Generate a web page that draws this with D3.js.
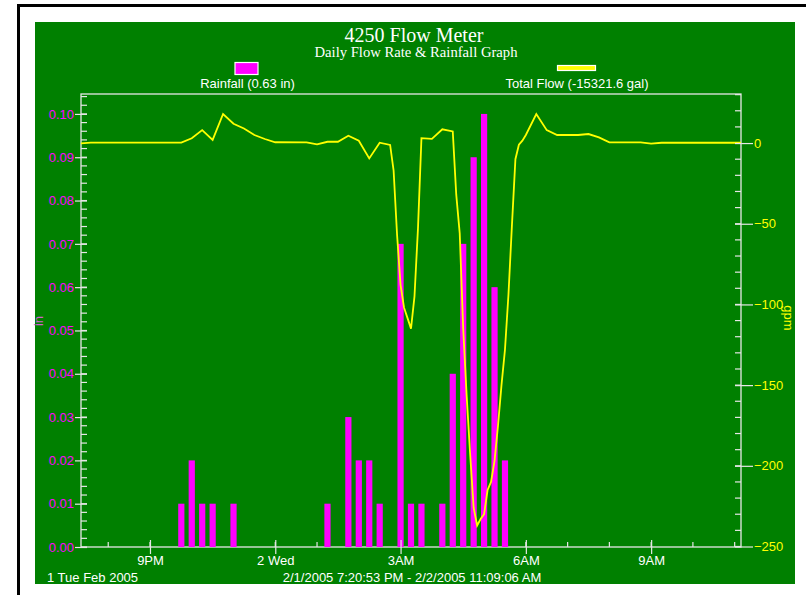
<!DOCTYPE html>
<html><head><meta charset="utf-8">
<script src="https://cdn.jsdelivr.net/npm/d3@7"></script>
<style>
html,body{margin:0;padding:0;background:#fff;}
svg{display:block;font-family:"Liberation Sans",Arial,sans-serif;}
</style></head>
<body>
<svg id="chart" width="806" height="595"></svg>
<script>
// ---- data ----
const startTime = "2005-02-01 19:20:53";
const endTime = "2005-02-02 11:09:06";

const rainTimes = ["2005-02-01 21:45:00","2005-02-01 22:00:00","2005-02-01 22:15:00","2005-02-01 22:30:00","2005-02-01 23:00:00",
  "2005-02-02 01:15:00","2005-02-02 01:45:00","2005-02-02 02:00:00","2005-02-02 02:15:00","2005-02-02 02:30:00",
  "2005-02-02 03:00:00","2005-02-02 03:15:00","2005-02-02 03:30:00","2005-02-02 04:00:00","2005-02-02 04:15:00",
  "2005-02-02 04:30:00","2005-02-02 04:45:00","2005-02-02 05:00:00","2005-02-02 05:15:00","2005-02-02 05:30:00"];
const rainValues = [0.01,0.02,0.01,0.01,0.01, 0.01,0.03,0.02,0.02,0.01, 0.07,0.01,0.01,0.01,0.04, 0.07,0.09,0.10,0.06,0.02];

const flowTimes = ["2005-02-01 19:20:53","2005-02-01 19:35:00","2005-02-01 21:45:00","2005-02-01 22:00:00","2005-02-01 22:15:00",
  "2005-02-01 22:30:00","2005-02-01 22:45:00","2005-02-01 23:00:00","2005-02-01 23:15:00","2005-02-01 23:30:00",
  "2005-02-01 23:45:00","2005-02-02 00:00:00","2005-02-02 00:45:00","2005-02-02 01:00:00","2005-02-02 01:15:00",
  "2005-02-02 01:30:00","2005-02-02 01:45:00","2005-02-02 02:00:00","2005-02-02 02:15:00","2005-02-02 02:30:00",
  "2005-02-02 02:45:00","2005-02-02 02:50:00","2005-02-02 02:55:00","2005-02-02 03:00:00","2005-02-02 03:05:00",
  "2005-02-02 03:10:00","2005-02-02 03:15:00","2005-02-02 03:20:00","2005-02-02 03:25:00","2005-02-02 03:30:00",
  "2005-02-02 03:45:00","2005-02-02 04:00:00","2005-02-02 04:15:00","2005-02-02 04:20:00","2005-02-02 04:25:00",
  "2005-02-02 04:30:00","2005-02-02 04:35:00","2005-02-02 04:40:00","2005-02-02 04:45:00","2005-02-02 04:50:00",
  "2005-02-02 04:55:00","2005-02-02 05:00:00","2005-02-02 05:05:00","2005-02-02 05:10:00","2005-02-02 05:15:00",
  "2005-02-02 05:20:00","2005-02-02 05:25:00","2005-02-02 05:30:00","2005-02-02 05:35:00","2005-02-02 05:40:00",
  "2005-02-02 05:45:00","2005-02-02 05:50:00","2005-02-02 05:55:00","2005-02-02 06:00:00","2005-02-02 06:15:00",
  "2005-02-02 06:30:00","2005-02-02 06:45:00","2005-02-02 07:15:00","2005-02-02 07:30:00","2005-02-02 07:45:00",
  "2005-02-02 08:00:00","2005-02-02 08:45:00","2005-02-02 09:00:00","2005-02-02 09:15:00","2005-02-02 11:09:06"];
const flowValues = [-0.2,0.3,0.3,3,8,
  2,18,12,9,5,
  2.5,0.5,0.4,-0.8,0.8,
  0.8,4.5,1.4,-9.5,0.2,
  -1.2,-17,-57,-88,-102,
  -108.5,-115,-95,-53,3,
  2.6,8.5,7.2,-32,-56,
  -115,-157,-193,-226,-237,
  -233,-230,-215,-210,-197,
  -175,-150,-128,-94,-51,
  -10,-1,1.5,5,18,
  8,5,5,5.6,3.5,
  0.4,0.4,-0.4,0.2,0.2];

const majorTickTimes = ["2005-02-01 21:00:00","2005-02-02 00:00:00","2005-02-02 03:00:00","2005-02-02 06:00:00","2005-02-02 09:00:00"];
const majorTickLabels = ["9PM","2 Wed","3AM","6AM","9AM"];
const leftTicks = [0,0.01,0.02,0.03,0.04,0.05,0.06,0.07,0.08,0.09,0.10];
const rightTicks = [0,-50,-100,-150,-200,-250];

const titleText = "4250 Flow Meter";
const subtitleText = "Daily Flow Rate & Rainfall Graph";
const rainLegend = "Rainfall (0.63 in)";
const flowLegend = "Total Flow (-15321.6 gal)";
const dateLabel = "1 Tue Feb 2005";
const rangeLabel = "2/1/2005 7:20:53 PM - 2/2/2005 11:09:06 AM";

// ---- drawing ----
const parse = d3.timeParse("%Y-%m-%d %H:%M:%S");
const svg = d3.select("#chart");
const GREEN = "#008000", MAG = "#ff00ff", YEL = "#ffff00", AX = "#e6e6e6";
const SERIF = "'Liberation Serif','Times New Roman',serif";
const SANS = "'Liberation Sans',Arial,sans-serif";

svg.append("rect").attr("x",0).attr("y",0).attr("width",806).attr("height",595).attr("fill","#fff");
svg.append("rect").attr("x",18.5).attr("y",5.5).attr("width",900).attr("height",700)
  .attr("fill","none").attr("stroke","#000").attr("stroke-width",3);
svg.append("rect").attr("x",35).attr("y",22).attr("width",760).attr("height",562).attr("fill",GREEN);

const L = 81, R = 741, T = 94, B = 547;
const x = d3.scaleTime().domain([parse(startTime), parse(endTime)]).range([L, R]);
const yL = d3.scaleLinear().domain([0, 0.1046]).range([B, T]);
const yR = d3.scaleLinear().domain([-250, 30.4]).range([B - 0.5, T]);

// titles
svg.append("text").attr("x",414).attr("y",42).attr("text-anchor","middle")
  .attr("font-family",SERIF).attr("font-size",20).attr("fill","#fff").text(titleText);
svg.append("text").attr("x",416).attr("y",57).attr("text-anchor","middle")
  .attr("font-family",SERIF).attr("font-size",14).attr("fill","#fff")
  .attr("textLength",203).attr("lengthAdjust","spacingAndGlyphs").text(subtitleText);

// legend
svg.append("rect").attr("x",235).attr("y",62.5).attr("width",23).attr("height",12)
  .attr("fill",MAG).attr("stroke","#fff").attr("stroke-width",1.2);
svg.append("text").attr("x",247.5).attr("y",88).attr("text-anchor","middle").attr("font-size",13).attr("fill","#fff").text(rainLegend);
svg.append("rect").attr("x",557.5).attr("y",65.5).attr("width",38).attr("height",5)
  .attr("fill",YEL).attr("stroke","#fff").attr("stroke-width",1.2);
svg.append("text").attr("x",577).attr("y",88).attr("text-anchor","middle").attr("font-size",13).attr("fill","#fff").text(flowLegend);

// frame
svg.append("rect").attr("x",L).attr("y",T).attr("width",R-L).attr("height",B-T)
  .attr("fill","none").attr("stroke",AX).attr("stroke-width",1.3);

// minor ticks
const hours = d3.timeHour.range(x.domain()[0], x.domain()[1]);
svg.append("g").selectAll("line").data(hours).join("line")
  .attr("x1",d=>x(d)).attr("x2",d=>x(d)).attr("y1",B).attr("y2",B-5)
  .attr("stroke",AX).attr("stroke-width",1.2);
const leftMinor = d3.range(0, 0.1046, 0.002);
svg.append("g").selectAll("line").data(leftMinor).join("line")
  .attr("x1",L).attr("x2",L+6).attr("y1",d=>yL(d)).attr("y2",d=>yL(d))
  .attr("stroke",AX).attr("stroke-width",1.2);
const rightMinor = d3.range(-250, 30.5, 10);
svg.append("g").selectAll("line").data(rightMinor).join("line")
  .attr("x1",R-6).attr("x2",R).attr("y1",d=>yR(d)).attr("y2",d=>yR(d))
  .attr("stroke",AX).attr("stroke-width",1.2);

// bars
const rain = rainTimes.map((t,i)=>({t:parse(t), v:rainValues[i]}));
const halfW = 3.1;
svg.append("g").selectAll("rect").data(rain).join("rect")
  .attr("x",d=>x(d.t)-halfW).attr("width",halfW*2)
  .attr("y",d=>yL(d.v)).attr("height",d=>B-yL(d.v)).attr("fill",MAG);

// line
const flow = flowTimes.map((t,i)=>({t:parse(t), v:flowValues[i]}));
svg.append("path").datum(flow)
  .attr("d", d3.line().x(d=>x(d.t)).y(d=>yR(d.v)))
  .attr("fill","none").attr("stroke",YEL).attr("stroke-width",1.8);

// bottom axis
const xAxis = d3.axisBottom(x).tickValues(majorTickTimes.map(parse))
  .tickFormat((d,i)=>majorTickLabels[i]).tickSize(7).tickPadding(2);
const gx = svg.append("g").attr("transform",`translate(0,${B})`).call(xAxis);
gx.select(".domain").remove();
gx.selectAll(".tick line").attr("y1",-7).attr("stroke",AX).attr("stroke-width",1.2);
gx.selectAll(".tick text").attr("fill","#fff").attr("font-size",13).attr("font-family",SANS);

// left axis
const yAxisL = d3.axisLeft(yL).tickValues(leftTicks).tickFormat(d3.format(".2f")).tickSize(6).tickPadding(1);
const gl = svg.append("g").attr("transform",`translate(${L},0)`).call(yAxisL);
gl.select(".domain").remove();
gl.selectAll(".tick line").attr("x2",-6).attr("x1",6).attr("stroke",AX).attr("stroke-width",1.2);
gl.selectAll(".tick text").attr("fill",MAG).attr("font-size",13).attr("font-family",SANS);

// right axis
const yAxisR = d3.axisRight(yR).tickValues(rightTicks).tickSize(12).tickPadding(1);
const gr = svg.append("g").attr("transform",`translate(${R},0)`).call(yAxisR);
gr.select(".domain").remove();
gr.selectAll(".tick line").attr("x1",-6).attr("stroke",AX).attr("stroke-width",1.2);
gr.selectAll(".tick text").attr("fill",YEL).attr("font-size",13).attr("font-family",SANS);

// axis titles
svg.append("text").attr("transform","translate(43,321) rotate(-90)").attr("text-anchor","middle")
  .attr("font-size",13).attr("fill","#d060d0").text("in");
svg.append("text").attr("transform","translate(784,318) rotate(90)").attr("text-anchor","middle")
  .attr("font-size",13).attr("fill",YEL).text("gpm");

// footer
svg.append("text").attr("x",47).attr("y",582).attr("font-size",13).attr("fill","#fff").text(dateLabel);
svg.append("text").attr("x",412).attr("y",582).attr("text-anchor","middle").attr("font-size",13).attr("fill","#fff").text(rangeLabel);
</script>
</body></html>
